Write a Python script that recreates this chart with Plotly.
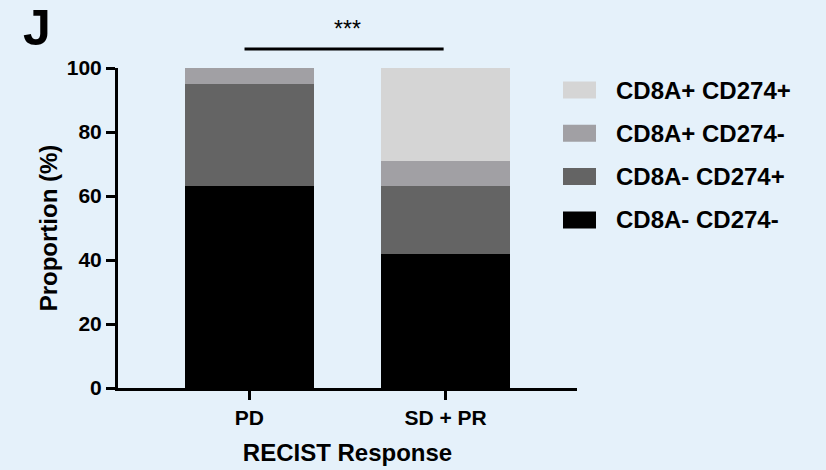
import plotly.graph_objects as go

# groups on the x axis
groups = ["PD", "SD + PR"]

# stacked proportions (%), bottom to top
cd8n_cd274n = [63, 42]
cd8n_cd274p = [32, 21]
cd8p_cd274n = [5, 8]
cd8p_cd274p = [0, 29]

series_names = ["CD8A- CD274-", "CD8A- CD274+", "CD8A+ CD274-", "CD8A+ CD274+"]
series_vals = [cd8n_cd274n, cd8n_cd274p, cd8p_cd274n, cd8p_cd274p]
series_cols = ["#000000", "#646464", "#a1a0a4", "#d5d5d5"]

y_ticks = [0, 20, 40, 60, 80, 100]
sig_label = "***"

FONT = "Liberation Sans, Arial, sans-serif"
W, H = 826, 470
L, R, T, B = 118, 249, 68, 82
pw, ph = W - L - R, H - T - B

fig = go.Figure()
for name, vals, col in zip(series_names, series_vals, series_cols):
    fig.add_trace(go.Bar(x=groups, y=vals, name=name, marker_color=col,
                         marker_line_width=0, width=0.66, showlegend=False))

fig.update_layout(
    barmode="stack",
    width=W, height=H,
    margin=dict(l=L, r=R, t=T, b=B),
    paper_bgcolor="#e5f1fa", plot_bgcolor="rgba(0,0,0,0)",
    font=dict(family=FONT, color="black"),
)
fig.update_xaxes(
    range=[-0.67, 1.67], showline=True, linewidth=3, linecolor="black", automargin=False,
    ticks="outside", ticklen=9, tickwidth=3, tickcolor="black",
    tickfont=dict(size=21, weight="bold"),
    title=dict(text="RECIST Response", font=dict(size=24, weight="bold"), standoff=16),
)
fig.update_yaxes(
    range=[0, 100], tickvals=y_ticks, showline=True, linewidth=3, linecolor="black",
    automargin=False,
    ticks="outside", ticklen=9, tickwidth=3, tickcolor="black", showgrid=False, zeroline=False,
    tickfont=dict(size=21, weight="bold"),
    title=dict(text="Proportion (%)", font=dict(size=24, weight="bold"), standoff=3),
)

# significance bar
fig.add_shape(type="line", xref="x", yref="paper", x0=-0.025, x1=0.99,
              y0=1 + (T - 49) / ph, y1=1 + (T - 49) / ph,
              line=dict(color="black", width=3))
fig.add_annotation(x=0.5, xref="x", y=1 + (T - 29) / ph, yref="paper", yanchor="middle",
                   text=sig_label, showarrow=False, font=dict(size=23))

# panel letter
fig.add_annotation(xref="paper", yref="paper", x=(37 - L) / pw, y=1 + (T - 28) / ph,
                   xanchor="center", yanchor="middle", text="J", showarrow=False,
                   font=dict(size=50, weight="bold"))

# legend, top entry first
for i, (name, col) in enumerate(zip(series_names[::-1], series_cols[::-1])):
    yc = 1 - (90 + 43.3 * i - T) / ph
    fig.add_shape(type="rect", xref="paper", yref="paper",
                  x0=(563 - L) / pw, x1=(596 - L) / pw,
                  y0=yc - 8.5 / ph, y1=yc + 8.5 / ph,
                  fillcolor=col, line_width=0)
    fig.add_annotation(xref="paper", yref="paper", x=(614 - L) / pw, y=yc,
                       xanchor="left", yanchor="middle", text=name, showarrow=False,
                       font=dict(size=24, weight="bold"))

fig.write_html("out.html", config={"displayModeBar": False},
               post_script="document.body.style.margin='0';")
